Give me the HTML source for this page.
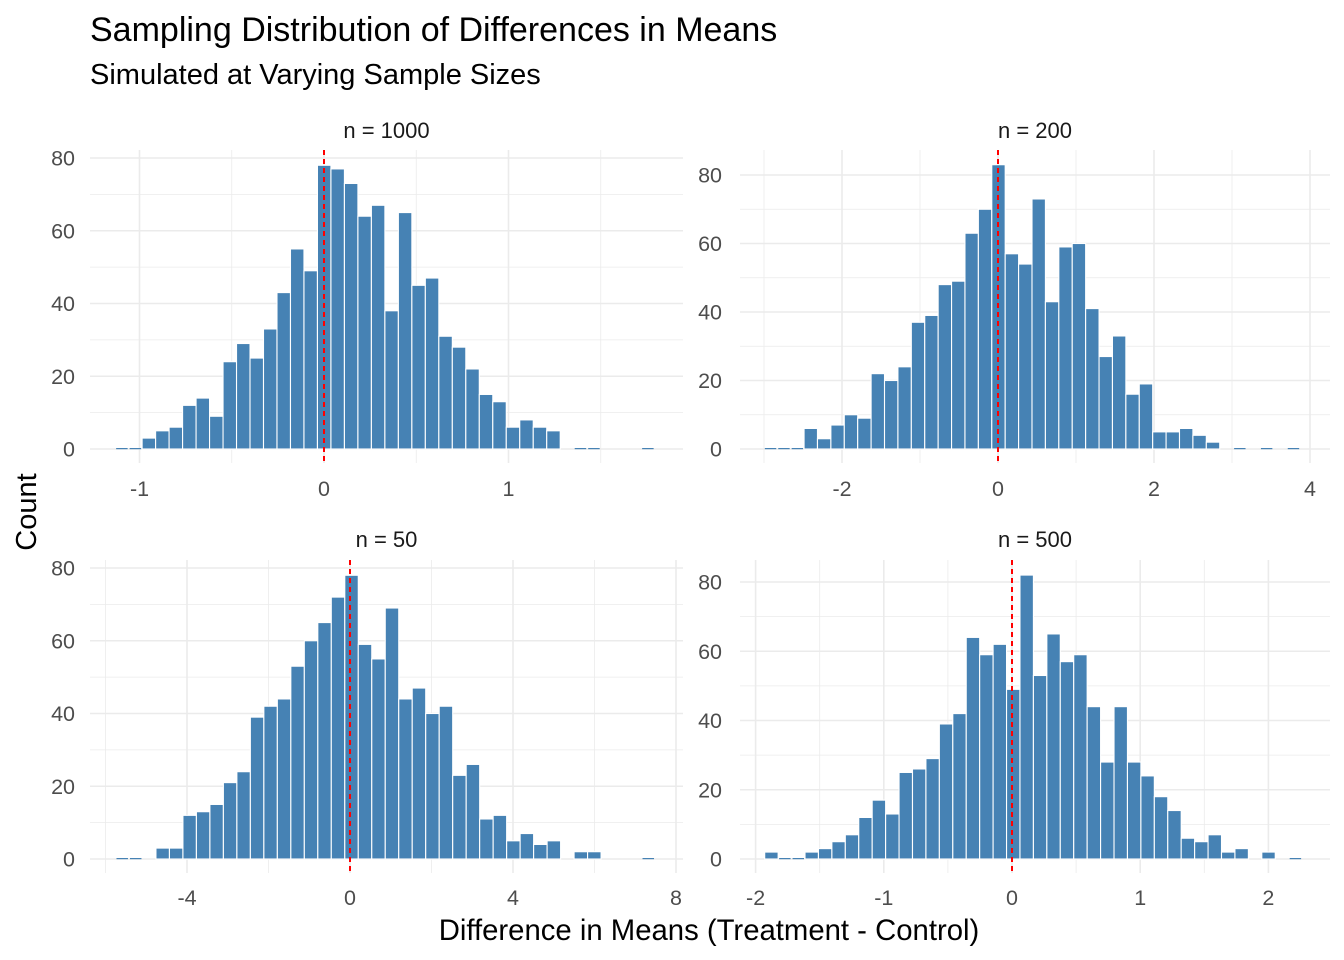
<!DOCTYPE html>
<html><head><meta charset="utf-8"><style>
html,body{margin:0;padding:0;background:#fff;}
svg{display:block;font-family:"Liberation Sans",sans-serif;}
</style></head><body>
<svg id="chart" width="1344" height="960" viewBox="0 0 1344 960">
<text x="90" y="41" font-size="34" fill="#000">Sampling Distribution of Differences in Means</text>
<text x="90" y="84" font-size="29" fill="#000">Simulated at Varying Sample Sizes</text>
<text transform="translate(36,512) rotate(-90)" text-anchor="middle" font-size="29" fill="#000">Count</text>
<text x="709" y="940" text-anchor="middle" font-size="29.3" fill="#000">Difference in Means (Treatment - Control)</text>
</svg>
<script>
const labels = ["n = 1000","n = 200","n = 50","n = 500"];
const counts1000 = [0,0,3,5,6,12,14,9,24,29,25,33,43,55,49,78,77,73,64,67,38,65,45,47,31,28,22,15,13,6,8,6,5,null,0,0,null,null,null,0];
const counts200 = [0,0,0,6,3,7,10,9,22,20,24,37,39,48,49,63,70,83,57,54,73,43,59,60,41,27,33,16,19,5,5,6,4,2,null,0,null,0,null,0];
const counts50 = [0,0,null,3,3,12,13,15,21,24,39,42,44,53,60,65,72,78,59,55,69,44,47,40,42,23,26,11,12,5,7,4,5,null,2,2,null,null,null,0];
const counts500 = [2,0,0,2,3,5,7,12,17,13,25,26,29,39,42,64,59,62,49,82,53,65,57,59,44,28,44,28,24,18,14,6,5,7,2,3,null,2,null,0];
const binStart = [-1.132,-3.002,-5.755,-1.929];
const binWidth = [0.0731,0.1719,0.331,0.1048];
const xMajor = [[-1,0,1],[-2,0,2,4],[-4,0,4,8],[-2,-1,0,1,2]];
const xMinor = [[-0.5,0.5,1.5],[-3,-1,1,3],[-6,-2,2,6],[-1.5,-0.5,0.5,1.5]];
const yMajor = [0,20,40,60,80];
const yMinor = [10,30,50,70];
const allCounts = [counts1000,counts200,counts50,counts500];

// layout (not data)
const panels = [
 {l:90,r:683,t:150,b:463,x0:324,ppu:184.5,y0:449,ppy:3.6375,lab:75,strip:130,xlab:496},
 {l:740,r:1330,t:150,b:463,x0:998,ppu:78,y0:449,ppy:3.425,lab:722,strip:130,xlab:496},
 {l:90,r:683,t:560,b:873,x0:350,ppu:40.75,y0:859,ppy:3.6375,lab:75,strip:539,xlab:905},
 {l:740,r:1330,t:560,b:873,x0:1012,ppu:128.2,y0:859,ppy:3.4625,lab:722,strip:539,xlab:905}
];
const NS="http://www.w3.org/2000/svg";
const svg=document.getElementById('chart');
function mk(tag,attrs,parent){const e=document.createElementNS(NS,tag);for(const k in attrs)e.setAttribute(k,attrs[k]);(parent||svg).appendChild(e);return e;}
panels.forEach((p,i)=>{
  const g=mk('g',{});
  
  
  const X=v=>p.x0+v*p.ppu, Y=v=>p.y0-v*p.ppy;
  yMinor.forEach(v=>{const l=mk('line',{x1:p.l,x2:p.r,y1:Y(v),y2:Y(v),stroke:'#ebebeb','stroke-width':0.8},g);
    });
  xMinor[i].forEach(v=>{const l=mk('line',{x1:X(v),x2:X(v),y1:p.t,y2:p.b,stroke:'#ebebeb','stroke-width':0.8},g);
    });
  yMajor.forEach(v=>{const l=mk('line',{x1:p.l,x2:p.r,y1:Y(v),y2:Y(v),stroke:'#ebebeb','stroke-width':1.6},g);
    
    const t=mk('text',{x:p.lab,y:Y(v)+7.5,'text-anchor':'end','font-size':21.5,fill:'#4d4d4d'},g);t.textContent=v;
    });
  xMajor[i].forEach(v=>{const l=mk('line',{x1:X(v),x2:X(v),y1:p.t,y2:p.b,stroke:'#ebebeb','stroke-width':1.6},g);
    
    const t=mk('text',{x:X(v),y:p.xlab,'text-anchor':'middle','font-size':21.5,fill:'#4d4d4d'},g);t.textContent=v;
    });
  allCounts[i].forEach((c,k)=>{
    if(c===null)return;
    const x1=X(binStart[i]+k*binWidth[i]), x2=X(binStart[i]+(k+1)*binWidth[i]);
    let r;
    if(c===0){r=mk('rect',{x:x1+1,y:p.y0-1,width:x2-x1-2,height:1.2,fill:'#4682b4'},g);}
    else {r=mk('rect',{x:x1,y:Y(c),width:x2-x1,height:c*p.ppy,fill:'#4682b4',stroke:'#fff','stroke-width':1.1},g);}
    
    
  });
  const d=mk('line',{x1:X(0),x2:X(0),y1:p.t,y2:p.b,stroke:'#ff0000','stroke-width':2,'stroke-dasharray':'5,4'},g);
  
  
  const s=mk('text',{x:(p.l+p.r)/2,y:p.strip+8,'text-anchor':'middle','font-size':22,fill:'#1a1a1a'},g);
  s.textContent=labels[i];
  
  
});
</script>
</body></html>
